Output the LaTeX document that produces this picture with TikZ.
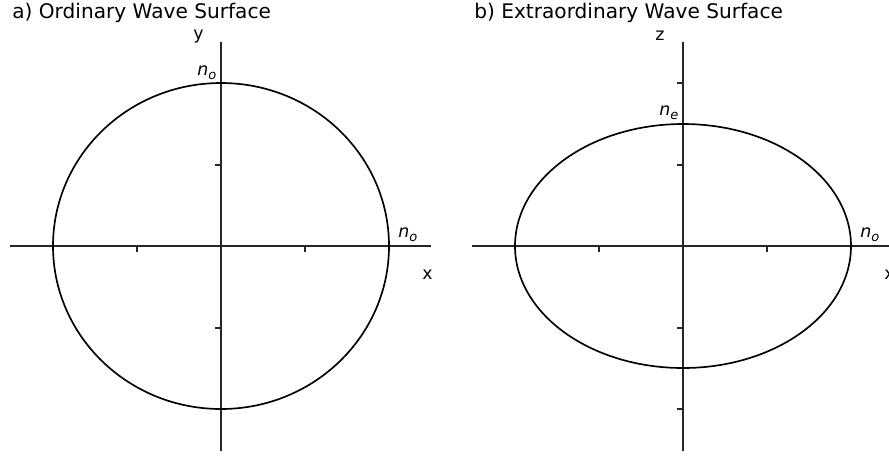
\documentclass[tikz,border=0pt]{standalone}
\usepackage{fontspec}
\setmainfont{DejaVu Sans}
\usetikzlibrary{positioning}
\newcommand{\rind}[1]{\textit{n}\raisebox{-0.25em}{\fontsize{7.4}{8}\selectfont\textit{#1}}}

\begin{document}
\begin{tikzpicture}[x=0.02cm,y=-0.02cm,
      curve/.style={line width=0.95pt,black},
      axis/.style={line width=0.8pt,black!85},
      tick/.style={line width=0.8pt,black!85},
      ttl/.style={anchor=base west,inner sep=0pt,font=\fontsize{11.45}{13}\selectfont},
      lbl/.style={anchor=base west,inner sep=0pt,font=\fontsize{9.9}{12}\selectfont}]
    \useasboundingbox (0,0) rectangle (889,458);
    % a) ordinary wave surface
    \node[ttl] (ttlA) at (12,18) {a) Ordinary Wave Surface};
    \draw[axis] (10,246) -- (431,246);
    \draw[axis] (221,42) -- (221,451);
    \foreach \t in {137,305} \draw[tick] (\t,246) -- (\t,252);
    \foreach \t in {165,328} \draw[tick] (221,\t) -- (215,\t);
    \draw[curve] (221,246) ellipse [x radius=168, y radius=163];
    \node[lbl] (axYa) at (193,39) {y};
    \node[lbl] (axXa) at (422,279) {x};
    \node[lbl] (noTopA) at (197,75) {\rind{o}};
    \node[lbl] (noSideA) at (398,237) {\rind{o}};
    % b) extraordinary wave surface
    \node[ttl] (ttlB) at (474,18) {b) Extraordinary Wave Surface};
    \draw[axis] (472,246) -- (889,246);
    \draw[axis] (683,42) -- (683,451);
    \foreach \t in {599,767} \draw[tick] (\t,246) -- (\t,252);
    \foreach \t in {83,165,328,409} \draw[tick] (683,\t) -- (677,\t);
    \draw[curve] (683,246) ellipse [x radius=168, y radius=122];
    \node[lbl] (axZb) at (655,40) {z};
    \node[lbl] (axXb) at (884,279) {x};
    \node[lbl] (neTopB) at (659,115) {\rind{e}};
    \node[lbl] (noSideB) at (860,237) {\rind{o}};
  \end{tikzpicture}
\end{document}
